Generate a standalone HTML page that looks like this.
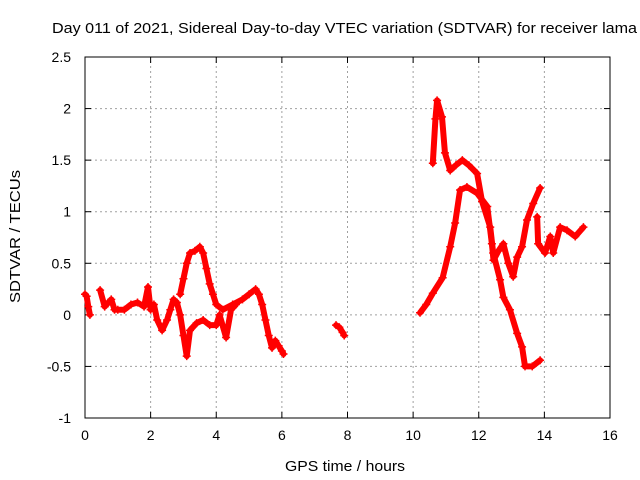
<!DOCTYPE html>
<html><head><meta charset="utf-8"><style>
html,body{margin:0;padding:0;background:#fff;}
svg{display:block;font-family:"Liberation Sans",sans-serif;}
</style></head><body>
<svg id="chart" width="640" height="480" xmlns="http://www.w3.org/2000/svg">
<text x="52" y="33" font-size="15" textLength="585" lengthAdjust="spacingAndGlyphs">Day 011 of 2021, Sidereal Day-to-day VTEC variation (SDTVAR) for receiver lama</text>
<text x="285" y="471" font-size="15" textLength="120" lengthAdjust="spacingAndGlyphs">GPS time / hours</text>
<text x="0" y="0" font-size="15" textLength="133" lengthAdjust="spacingAndGlyphs" transform="translate(20,303) rotate(-90)">SDTVAR / TECUs</text>
<g id="grid"></g>
<g id="axes"></g>
<g id="series"></g>
</svg>
<script>
const xTicks=[0,2,4,6,8,10,12,14,16];
const yTicks=[-1,-0.5,0,0.5,1,1.5,2,2.5];
const yTickLabels=["-1","-0.5","0","0.5","1","1.5","2","2.5"];
const seg1Hours=[0.0,0.05,0.1,0.15];
const seg1Vals=[0.2,0.18,0.08,0.0];
const seg2Hours=[0.46,0.6,0.8,0.9,1.0,1.2,1.4,1.6,1.8,1.92,2.0,2.1,2.2,2.35,2.5,2.6,2.7,2.8,2.9,3.0,3.1,3.2,3.4,3.6,3.8,4.0,4.1,4.3,4.45,4.6];
const seg2Vals=[0.24,0.08,0.15,0.05,0.05,0.05,0.1,0.12,0.08,0.27,0.05,0.1,-0.05,-0.15,-0.05,0.05,0.15,0.12,0.0,-0.2,-0.4,-0.15,-0.08,-0.05,-0.1,-0.1,0.0,-0.22,0.05,0.1];
const seg3Hours=[2.9,3.0,3.1,3.2,3.35,3.5,3.6,3.7,3.8,3.9,4.0,4.2,4.5,4.8,5.0,5.2,5.3,5.4,5.5,5.6,5.7,5.8,5.9,6.0,6.05];
const seg3Vals=[0.2,0.35,0.5,0.6,0.62,0.66,0.6,0.45,0.3,0.2,0.1,0.05,0.1,0.15,0.2,0.25,0.2,0.1,-0.05,-0.2,-0.32,-0.25,-0.3,-0.35,-0.38];
const seg4Hours=[7.65,7.75,7.85,7.9];
const seg4Vals=[-0.1,-0.12,-0.17,-0.2];
const seg5Hours=[10.21,10.4,10.6,10.9,11.13,11.28,11.43,11.64,11.95,12.26,12.4,12.45,12.6,12.75,12.9,13.05,13.17,13.32,13.47,13.66,13.87];
const seg5Vals=[0.02,0.1,0.21,0.36,0.66,0.89,1.21,1.24,1.18,1.05,0.69,0.53,0.62,0.69,0.5,0.37,0.56,0.66,0.92,1.08,1.23];
const seg6Hours=[10.6,10.68,10.73,10.88,10.97,11.13,11.3,11.5,11.7,11.95,12.1,12.35,12.44,12.65,12.75,12.95,13.17,13.32,13.41,13.63,13.87];
const seg6Vals=[1.47,1.9,2.08,1.92,1.57,1.4,1.45,1.5,1.45,1.37,1.1,0.85,0.6,0.34,0.17,0.05,-0.18,-0.31,-0.5,-0.5,-0.44];
const seg7Hours=[13.78,13.81,14.02,14.18,14.27,14.48,14.69,14.94,15.19];
const seg7Vals=[0.95,0.69,0.6,0.76,0.6,0.85,0.82,0.76,0.85];

const X0=85,X1=610,Y0=418,Y1=57,XMIN=0,XMAX=16,YMIN=-1,YMAX=2.5;
const xs=v=>X0+(v-XMIN)/(XMAX-XMIN)*(X1-X0);
const ys=v=>Y0-(v-YMIN)/(YMAX-YMIN)*(Y0-Y1);
const NS="http://www.w3.org/2000/svg";
function mk(tag,attrs,parent){const e=document.createElementNS(NS,tag);for(const k in attrs)e.setAttribute(k,attrs[k]);parent.appendChild(e);return e;}
const grid=document.getElementById('grid'),axes=document.getElementById('axes'),series=document.getElementById('series');
xTicks.forEach(t=>{
 const x=xs(t);
 if(t>XMIN&&t<XMAX){const g=mk('line',{x1:x,y1:Y0,x2:x,y2:Y1,stroke:'#a0a0a0','stroke-dasharray':'2,3'},grid);
 
 }
 mk('line',{x1:x,y1:Y0,x2:x,y2:Y0-6,stroke:'#000'},axes);
 mk('line',{x1:x,y1:Y1,x2:x,y2:Y1+6,stroke:'#000'},axes);
 const l=mk('text',{x:x,y:Y0+22,'font-size':14,'text-anchor':'middle'},axes);
 l.textContent=String(t);
 
 
});
yTicks.forEach((t,i)=>{
 const y=ys(t);
 if(t>YMIN&&t<YMAX){const g=mk('line',{x1:X0,y1:y,x2:X1,y2:y,stroke:'#a0a0a0','stroke-dasharray':'2,3'},grid);
 
 }
 mk('line',{x1:X0,y1:y,x2:X0+6,y2:y,stroke:'#000'},axes);
 mk('line',{x1:X1,y1:y,x2:X1-6,y2:y,stroke:'#000'},axes);
 const l=mk('text',{x:X0-14,y:y+5,'font-size':14,'text-anchor':'end'},axes);
 l.textContent=yTickLabels[i];
 
 
});
const frame=mk('rect',{x:X0,y:Y1,width:X1-X0,height:Y0-Y1,fill:'none',stroke:'#000'},axes);


[[seg1Hours,seg1Vals],[seg2Hours,seg2Vals],[seg3Hours,seg3Vals],[seg4Hours,seg4Vals],[seg5Hours,seg5Vals],[seg6Hours,seg6Vals],[seg7Hours,seg7Vals]].forEach(([hx,hv])=>{
 const pts=hx.map((h,i)=>xs(h)+','+ys(hv[i])).join(' ');
 const pl=mk('polyline',{points:pts,fill:'none',stroke:'#f00','stroke-width':6,'stroke-linejoin':'round','stroke-linecap':'round'},series);
 
 
 hx.forEach((h,i)=>{
  const x=xs(h),y=ys(hv[i]);
  const p=mk('path',{d:`M${x-4},${y}H${x+4}M${x},${y-4}V${y+4}`,stroke:'#f00','stroke-width':1.5},series);
  
  
 });
});
</script>
</body></html>
